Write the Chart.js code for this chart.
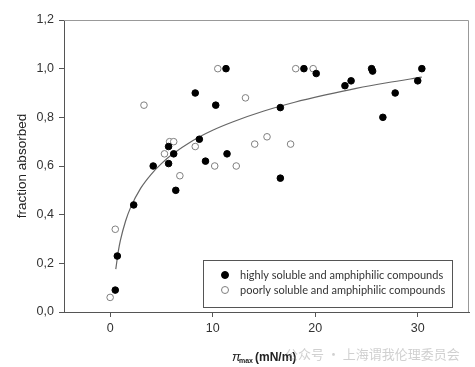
<!DOCTYPE html>
<html>
<head>
<meta charset="utf-8">
<script src="https://cdn.jsdelivr.net/npm/chart.js@4.4.0/dist/chart.umd.min.js"></script>
<style>
  html, body { margin: 0; padding: 0; background: #fff; }
</style>
</head>
<body>
<canvas id="chart" width="475" height="367"></canvas>
<script>
// data
const seriesNames = ["highly soluble and amphiphilic compounds", "poorly soluble and amphiphilic compounds"];

const highX = [0.5, 0.7, 2.3, 4.2, 5.7, 5.7, 6.2, 6.4, 8.3, 8.7, 9.3, 10.3, 11.3, 11.4, 16.6, 16.6, 18.9, 20.1, 22.9, 23.5, 25.5, 25.6, 26.6, 27.8, 30.0, 30.4];
const highY = [0.09, 0.23, 0.44, 0.60, 0.61, 0.68, 0.65, 0.50, 0.90, 0.71, 0.62, 0.85, 1.00, 0.65, 0.84, 0.55, 1.00, 0.98, 0.93, 0.95, 1.00, 0.99, 0.80, 0.90, 0.95, 1.00];

const poorX = [0.0, 0.5, 3.3, 5.3, 5.8, 6.2, 6.8, 8.3, 10.2, 10.5, 12.3, 13.2, 14.1, 15.3, 17.6, 18.1, 19.8];
const poorY = [0.06, 0.34, 0.85, 0.65, 0.70, 0.70, 0.56, 0.68, 0.60, 1.00, 0.60, 0.88, 0.69, 0.72, 0.69, 1.00, 1.00];

// fitted curve, points
const fitX = [0.55, 0.8, 1, 1.5, 2, 3, 4, 5, 6, 8, 10, 12, 15, 18, 21, 24, 27, 30.4];
const fitY = [0.176, 0.250, 0.294, 0.373, 0.430, 0.510, 0.566, 0.610, 0.646, 0.703, 0.747, 0.782, 0.826, 0.862, 0.892, 0.919, 0.942, 0.965];

const xTicks = [0, 10, 20, 30];
const yTicks = [0, 0.2, 0.4, 0.6, 0.8, 1.0, 1.2];

const toPts = (xs, ys) => xs.map((x, i) => ({ x: x, y: ys[i] }));

// frame, legend box, x title, watermark
const extras = {
    id: 'extras',
    beforeDatasetsDraw(chart) {
        const { ctx, chartArea: a } = chart;
        ctx.save();
        ctx.strokeStyle = '#999';
        ctx.lineWidth = 1;
        ctx.beginPath();
        ctx.moveTo(a.left, a.top + 0.5);
        ctx.lineTo(a.right - 0.5, a.top + 0.5);
        ctx.lineTo(a.right - 0.5, a.bottom);
        ctx.stroke();
        ctx.restore();
    },
    afterDraw(chart) {
        const ctx = chart.ctx;
        ctx.save();
        // legend
        ctx.fillStyle = '#fff';
        ctx.fillRect(203, 260, 249, 47);
        ctx.strokeStyle = '#555';
        ctx.lineWidth = 1;
        ctx.strokeRect(203.5, 260.5, 249, 47);
        const rows = [275, 290];
        chart.data.datasets.slice(0, 2).forEach((ds, i) => {
            ctx.beginPath();
            ctx.arc(225, rows[i], 3.5, 0, Math.PI * 2);
            ctx.fillStyle = ds.backgroundColor;
            ctx.fill();
            ctx.strokeStyle = ds.borderColor;
            ctx.stroke();
            ctx.fillStyle = '#333';
            ctx.font = '11px Lato';
            ctx.textBaseline = 'middle';
            ctx.fillText(ds.label, 240, rows[i]);
        });

        // x axis title
        ctx.fillStyle = '#222';
        ctx.textBaseline = 'alphabetic';
        ctx.font = 'italic 13px "Liberation Sans"';
        ctx.fillText('π', 232, 361);
        ctx.font = 'bold 7px "Liberation Sans"';
        ctx.fillText('max', 239, 363);
        ctx.font = 'bold 12px "Liberation Sans"';
        ctx.fillText('(mN/m)', 255, 361);

        // watermark
        ctx.fillStyle = 'rgba(150,150,150,0.45)';
        ctx.font = '13px "Noto Sans CJK SC"';
        ctx.fillText('公众号 · 上海谓我伦理委员会', 285, 359);
        ctx.restore();
    }
};

new Chart(document.getElementById('chart'), {
    type: 'scatter',
    data: {
        datasets: [
            {
                label: seriesNames[0],
                data: toPts(highX, highY),
                backgroundColor: '#000',
                borderColor: '#000',
                borderWidth: 1,
                pointRadius: 3.3
            },
            {
                label: seriesNames[1],
                data: toPts(poorX, poorY),
                backgroundColor: '#fff',
                borderColor: '#808080',
                borderWidth: 1,
                pointRadius: 3.3
            },
            {
                label: 'fit',
                data: toPts(fitX, fitY),
                showLine: true,
                pointRadius: 0,
                borderColor: '#666',
                borderWidth: 1.2,
                cubicInterpolationMode: 'monotone'
            }
        ]
    },
    options: {
        responsive: false,
        animation: false,
        devicePixelRatio: 1,
        layout: { padding: { left: 0, right: 6, top: 20, bottom: 0 } },
        plugins: { legend: { display: false }, tooltip: { enabled: false } },
        scales: {
            x: {
                type: 'linear',
                min: -4.5,
                max: 35,
                afterBuildTicks: s => { s.ticks = xTicks.map(v => ({ value: v })); },
                afterFit: s => { s.height = 55; },
                grid: { display: true, drawOnChartArea: false, tickLength: 5, color: '#555' },
                border: { display: true, color: '#555' },
                ticks: { color: '#333', font: { family: 'Liberation Sans', size: 12.5 }, padding: 4 }
            },
            y: {
                type: 'linear',
                min: 0,
                max: 1.2,
                afterBuildTicks: s => { s.ticks = yTicks.map(v => ({ value: v })); },
                afterFit: s => { s.width = 64; },
                grid: { display: true, drawOnChartArea: false, tickLength: 5, color: '#555' },
                border: { display: true, color: '#555' },
                ticks: {
                    color: '#333',
                    font: { family: 'Liberation Sans', size: 12.5 },
                    padding: 5,
                    callback: v => v.toFixed(1).replace('.', ',')
                },
                title: {
                    display: true,
                    text: 'fraction absorbed',
                    color: '#222',
                    font: { family: 'Liberation Sans', size: 13.5 },
                    padding: { top: 14, bottom: 0 }
                }
            }
        }
    },
    plugins: [extras]
});
</script>
</body>
</html>
